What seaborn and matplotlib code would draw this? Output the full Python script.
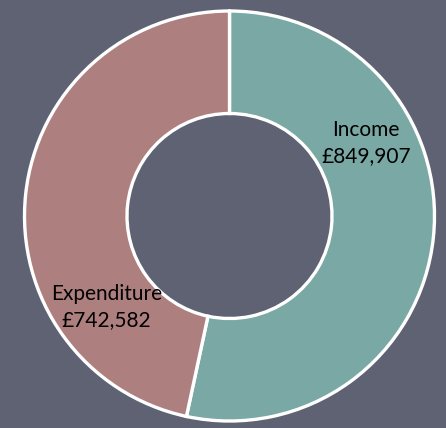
import matplotlib
matplotlib.use("Agg")
import matplotlib.pyplot as plt
import seaborn as sns
import numpy as np

categories = ["Income", "Expenditure"]
values = [849907, 742582]
colors_hex = ["#7aa9a5", "#ae7f7f"]
bg = "#5f6273"

sns.set_theme(style="white")
plt.rcParams['font.family'] = ['Lato', 'DejaVu Sans']

palette = sns.color_palette(colors_hex)

fig = plt.figure(figsize=(4.46, 4.28), dpi=100, facecolor=bg)
ax = fig.add_axes([0, 0, 1, 1])
ax.set_facecolor(bg)

wedges, _ = ax.pie(values, colors=palette, startangle=90, counterclock=False,
                   radius=1.0,
                   wedgeprops=dict(width=0.5, edgecolor="white", linewidth=2.4))

# label positions (angle in degrees, radius)
label_pos = [(28, 0.755), (216.5, 0.745)]
for cat, val, (ang, r) in zip(categories, values, label_pos):
    a = np.deg2rad(ang)
    ax.text(r * np.cos(a), r * np.sin(a), f"{cat}\n£{val:,}", ha="center", va="center",
            fontsize=15, color="black", linespacing=1.4)

s = 205.0
ax.set_xlim(-229.5 / s, (446 - 229.5) / s)
ax.set_ylim(-212 / s, (428 - 212) / s)
ax.set_aspect("equal")
ax.axis("off")

fig.savefig("out.png", dpi=100, facecolor=bg)
